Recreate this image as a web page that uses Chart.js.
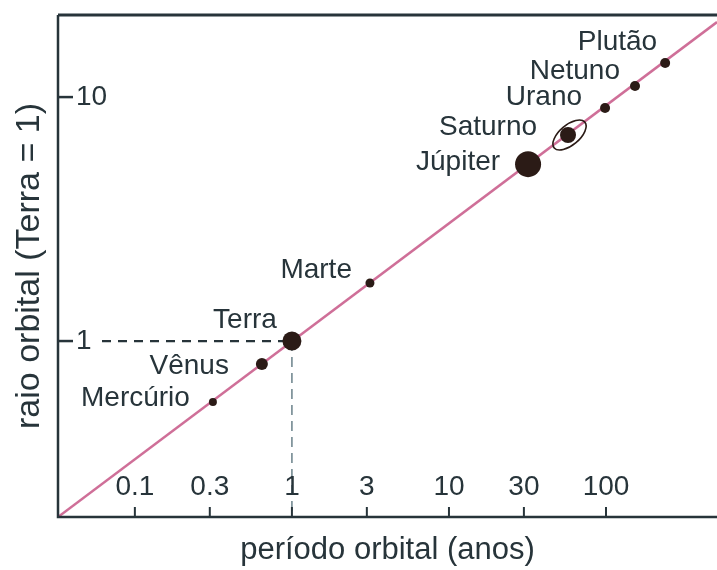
<!DOCTYPE html>
<html lang="pt">
<head>
  <meta charset="UTF-8">
  <title>Período e raio orbital dos planetas</title>
  <script src="https://cdn.jsdelivr.net/npm/chart.js"></script>
  <style>
    html, body { margin: 0; padding: 0; background: #fff; overflow: hidden; }
    #wrap { width: 717px; height: 570px; position: relative; }
    canvas { display: block; }
  </style>
</head>
<body>
  <div id="wrap"><canvas id="kepler"></canvas></div>

  <script>
    // values (periods in years, radius with Earth = 1)
    const planets = ['Mercúrio', 'Vênus', 'Terra', 'Marte', 'Júpiter', 'Saturno', 'Urano', 'Netuno', 'Plutão'];
    const periods = [0.314, 0.644, 1, 3.14, 31.9, 57.3, 98.6, 153, 238];
    const radii = [0.562, 0.805, 1, 1.73, 5.31, 6.99, 9.02, 11.1, 13.8];
    const lineX = [0.0324, 509];
    const lineY = [0.19, 20.3];
    const xTicks = [0.1, 0.3, 1, 3, 10, 30, 100];
    const yTicks = [1, 10];

    // styling
    const dotSize = [4, 6, 9.5, 4.5, 13, 8, 5, 5, 5];
    const labelShift = [[-23, -4], [-33, 2], [-15, -21], [-18, -13], [-28, -2], [-31, -8], [-23, -11], [-15, -15], [-8, -21]];
    const ink = '#27343a';
    const font = '"Liberation Sans", Arial, Helvetica, sans-serif';

    const decor = {
      id: 'decor',
      beforeDatasetsDraw(chart) {
        const { ctx, chartArea: a, scales: { x, y } } = chart;
        const tx = x.getPixelForValue(1), ty = y.getPixelForValue(1);
        ctx.save();
        ctx.strokeStyle = ink; ctx.lineWidth = 2.2; ctx.setLineDash([9, 7]);
        ctx.beginPath(); ctx.moveTo(a.left + 44, ty); ctx.lineTo(tx, ty); ctx.stroke();
        ctx.strokeStyle = '#6a818a'; ctx.lineWidth = 1.5; ctx.setLineDash([10, 6]);
        ctx.beginPath(); ctx.moveTo(tx, ty); ctx.lineTo(tx, a.bottom); ctx.stroke();
        ctx.restore();
      },
      afterDatasetsDraw(chart) {
        const { ctx, chartArea: a, scales: { x, y } } = chart;
        ctx.save();
        // Saturn's ring
        const si = planets.indexOf('Saturno');
        ctx.strokeStyle = '#2b1b16'; ctx.lineWidth = 1.6;
        ctx.beginPath();
        ctx.ellipse(x.getPixelForValue(periods[si]) + 1.5, y.getPixelForValue(radii[si]), 20, 10, -0.7, 0, Math.PI * 2);
        ctx.stroke();

        // planet names
        ctx.fillStyle = ink; ctx.font = '28px ' + font;
        ctx.textAlign = 'right'; ctx.textBaseline = 'middle';
        planets.forEach((name, i) => {
          ctx.fillText(name, x.getPixelForValue(periods[i]) + labelShift[i][0], y.getPixelForValue(radii[i]) + labelShift[i][1]);
        });

        // frame
        ctx.strokeStyle = ink;
        ctx.lineWidth = 3;
        ctx.beginPath(); ctx.moveTo(a.left, a.top); ctx.lineTo(a.right, a.top); ctx.stroke();
        ctx.lineWidth = 2.5;
        ctx.beginPath(); ctx.moveTo(a.left, a.top); ctx.lineTo(a.left, a.bottom); ctx.lineTo(a.right, a.bottom); ctx.stroke();

        // ticks and tick labels, inside the plot
        ctx.lineWidth = 2;
        ctx.textAlign = 'center'; ctx.textBaseline = 'alphabetic';
        xTicks.forEach(v => {
          const px = x.getPixelForValue(v);
          ctx.beginPath(); ctx.moveTo(px, a.bottom); ctx.lineTo(px, a.bottom - 10); ctx.stroke();
          ctx.fillText(String(v), px, a.bottom - 22);
        });
        ctx.lineWidth = 2.5;
        ctx.textAlign = 'left'; ctx.textBaseline = 'middle';
        yTicks.forEach(v => {
          const py = y.getPixelForValue(v);
          ctx.beginPath(); ctx.moveTo(a.left, py); ctx.lineTo(a.left + 15, py); ctx.stroke();
          ctx.fillText(String(v), a.left + 18, py);
        });
        ctx.restore();
      }
    };

    new Chart(document.getElementById('kepler'), {
      type: 'scatter',
      data: {
        datasets: [
          {
            label: 'planetas',
            data: periods.map((p, i) => ({ x: p, y: radii[i] })),
            pointRadius: dotSize,
            pointHoverRadius: dotSize,
            backgroundColor: '#2b1b16',
            borderColor: '#2b1b16',
            borderWidth: 0
          },
          {
            label: 'lei de Kepler',
            type: 'line',
            data: lineX.map((p, i) => ({ x: p, y: lineY[i] })),
            borderColor: '#cf6f98',
            borderWidth: 2.5,
            pointRadius: 0,
            fill: false
          }
        ]
      },
      options: {
        responsive: true,
        maintainAspectRatio: false,
        animation: false,
        layout: { autoPadding: false, padding: { top: 15, right: 0, left: 0, bottom: 0 } },
        plugins: { legend: { display: false }, tooltip: { enabled: false } },
        scales: {
          x: {
            type: 'logarithmic', min: lineX[0], max: lineX[1],
            ticks: { display: false }, grid: { display: false }, border: { display: false },
            title: { display: true, text: 'período orbital (anos)', color: ink, font: { family: font, size: 31 }, padding: { top: 0, bottom: 1 } },
            afterFit: s => { s.height = 53; }
          },
          y: {
            type: 'logarithmic', min: lineY[0], max: 21.7,
            ticks: { display: false }, grid: { display: false }, border: { display: false },
            title: { display: true, text: 'raio orbital (Terra = 1)', color: ink, font: { family: font, size: 34 }, padding: { top: 9, bottom: 0 } },
            afterFit: s => { s.width = 58; }
          }
        }
      },
      plugins: [decor]
    });
  </script>
</body>
</html>
